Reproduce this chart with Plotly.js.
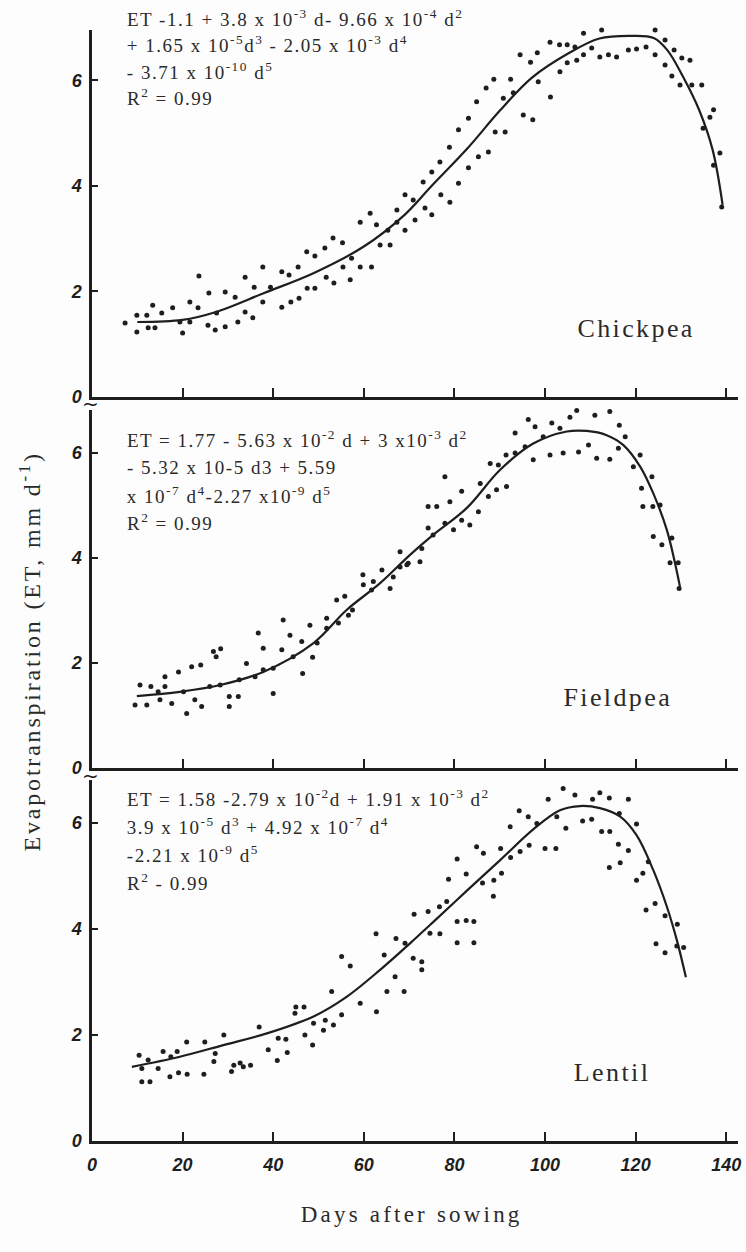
<!DOCTYPE html>
<html>
<head>
<meta charset="utf-8">
<script src="https://cdn.plot.ly/plotly-3.0.1.min.js"></script>
<style>html,body{margin:0;padding:0;background:#fdfdfd;}#chart{width:746px;height:1252px;}</style>
</head>
<body>
<div id="chart"></div>
<script>
// ---------------- Data ----------------
const xTickVals = [0, 20, 40, 60, 80, 100, 120, 140];
const yTickVals = [0, 2, 4, 6];

// Chickpea observed ET
const chickDays = [7.3,9.9,9.9,12.1,12.4,13.4,13.9,15.4,17.8,19.4,20.0,21.6,21.6,23.4,23.6,25.6,25.8,27.2,27.5,29.4,29.4,31.6,32.2,33.8,33.8,35.5,35.8,37.7,37.7,39.4,41.9,41.9,43.5,43.9,45.5,45.7,47.4,47.5,49.2,49.2,51.4,51.7,53.2,53.4,55.3,55.4,57.0,57.3,59.2,59.2,61.4,61.7,62.8,63.6,65.3,65.8,67.3,67.3,69.1,69.1,70.9,71.3,73.1,73.5,75.0,75.0,76.8,77.0,78.9,79.0,80.9,80.9,83.1,83.1,84.9,85.3,87.0,87.5,88.7,89.0,90.8,91.2,92.4,93.0,94.5,95.2,96.8,97.3,98.3,98.5,101.1,101.2,103.2,103.3,104.9,104.9,106.6,107.0,108.5,108.5,110.3,110.3,112.5,112.1,114.3,114.0,116.2,115.8,118.2,118.2,118.4,120.4,120.2,122.4,122.3,124.3,124.3,126.3,126.5,126.5,128.5,130.2,128.0,129.8,132.0,132.4,134.6,137.2,136.4,134.9,138.6,137.2,139.0];
const chickET = [1.40,1.55,1.23,1.55,1.31,1.74,1.31,1.59,1.69,1.42,1.21,1.80,1.42,1.69,2.29,1.36,1.97,1.27,1.59,1.33,1.99,1.89,1.42,2.27,1.61,1.50,2.08,2.46,1.80,2.08,2.37,1.70,2.31,1.80,2.46,1.87,2.75,2.06,2.67,2.06,2.82,2.27,3.01,2.16,2.92,2.46,2.22,2.63,3.31,2.46,3.48,2.46,3.26,2.88,3.16,2.88,3.54,3.31,3.83,3.16,3.73,3.35,4.07,3.58,4.26,3.45,4.45,3.83,4.73,3.69,5.06,4.05,5.28,4.34,5.59,4.55,5.85,4.64,6.02,5.02,5.66,5.02,6.02,5.76,6.48,5.34,6.34,5.25,6.52,5.97,6.72,5.68,6.67,6.16,6.67,6.33,6.63,6.38,6.89,6.48,6.99,6.61,6.95,6.44,7.05,6.48,7.08,6.44,7.20,7.05,6.57,7.03,6.59,7.08,6.63,6.95,6.48,7.01,6.76,6.29,6.57,6.42,6.08,5.91,6.38,5.91,5.91,5.44,5.30,5.09,4.62,4.39,3.60];
// Chickpea fitted curve
const chickFitDays = [10, 20, 27, 38, 49, 60, 69, 75, 83, 90, 97, 105, 112, 119, 124, 127, 130.5, 134, 137, 139.2];
const chickFitET   = [1.42, 1.46, 1.60, 1.97, 2.35, 2.85, 3.45, 4.00, 4.72, 5.42, 6.04, 6.50, 6.79, 6.84, 6.80, 6.57, 6.06, 5.44, 4.68, 3.64];

// Fieldpea observed ET
const fieldDays = [9.5,10.6,12.1,13.0,14.6,15.0,16.1,16.1,17.6,19.1,20.2,20.9,22.0,22.7,24.0,24.2,26.0,26.8,27.4,28.4,28.3,30.3,30.3,32.3,32.5,34.1,36.0,36.7,37.8,37.8,40.0,40.0,41.9,42.2,43.7,44.4,46.3,46.5,48.1,48.7,49.7,51.8,51.8,54.0,54.4,55.8,56.6,57.5,59.8,59.9,61.7,62.1,64.0,65.8,66.5,68.0,68.0,69.8,69.5,72.4,72.8,74.2,74.2,75.3,76.1,77.9,77.9,79.0,79.8,81.6,81.6,83.4,85.3,85.7,87.5,87.9,89.3,89.7,91.5,91.4,93.4,93.4,95.6,96.3,97.4,97.8,99.5,99.6,101.1,101.5,103.3,104.0,105.1,105.5,107.0,107.4,109.2,109.6,111.0,111.4,114.3,114.3,116.2,116.4,117.7,119.5,121.0,121.3,121.6,123.6,123.8,123.9,125.4,125.8,128.0,127.6,129.4,129.6];
const fieldET = [1.20,1.58,1.20,1.55,1.45,1.30,1.74,1.55,1.23,1.83,1.45,1.04,1.93,1.30,1.96,1.17,1.55,2.22,2.12,2.27,1.58,1.36,1.17,1.36,1.68,1.99,1.74,2.57,2.28,1.87,1.90,1.42,2.25,2.82,2.53,2.12,2.41,1.80,2.72,2.11,2.38,2.85,2.66,3.20,2.76,3.27,2.91,3.01,3.68,3.49,3.39,3.55,3.77,3.42,3.64,4.12,3.83,3.90,3.87,3.93,4.18,4.98,4.57,4.44,4.98,5.55,4.66,5.07,4.54,5.27,4.72,4.63,4.88,5.42,5.17,5.80,5.30,5.77,5.36,5.96,6.38,6.00,6.12,6.64,5.87,6.50,6.85,6.31,5.96,6.57,6.47,6.00,6.89,6.68,6.81,6.02,6.89,6.15,6.72,5.90,6.79,5.88,6.09,6.53,6.31,5.74,5.96,5.33,4.98,5.55,4.98,4.41,5.01,4.25,4.38,3.91,3.91,3.42];
const fieldFitDays = [9.9, 19.4, 28.3, 37.8, 48.9, 56.2, 63.6, 70.2, 75.3, 82.7, 90.1, 97.4, 104.8, 109.2, 113.6, 117.3, 121.0, 123.9, 126.9, 129.8];
const fieldFitET   = [1.37, 1.45, 1.58, 1.83, 2.38, 3.01, 3.52, 4.06, 4.44, 4.95, 5.68, 6.18, 6.41, 6.42, 6.34, 6.15, 5.74, 5.23, 4.53, 3.45];

// Lentil observed ET
const lentilDays = [10.4,11.0,11.0,12.4,12.8,14.6,15.7,17.2,17.4,18.8,19.1,20.9,21.0,24.9,24.7,26.9,27.2,29.1,30.8,31.3,32.7,33.4,35.0,36.9,38.9,40.9,41.1,42.8,43.1,44.8,45.0,46.8,47.0,48.7,48.9,51.1,51.5,52.9,53.3,55.1,55.1,57.0,59.2,62.7,62.8,64.5,65.1,66.9,67.1,68.9,69.1,70.9,71.1,72.8,72.8,74.2,74.6,76.7,76.8,78.3,78.7,80.6,80.6,80.6,82.6,82.6,84.3,84.3,84.9,86.2,86.4,88.7,88.6,90.2,90.4,92.3,92.4,94.3,94.5,96.3,96.5,98.2,100.0,100.7,102.4,102.6,104.0,104.6,106.6,108.3,110.3,110.5,112.1,112.5,114.2,114.3,114.2,116.2,116.4,116.6,118.4,118.4,120.2,120.2,121.6,122.8,122.3,124.3,124.5,126.5,126.5,129.2,129.1,130.6];
const lentilET = [1.62,1.37,1.12,1.53,1.12,1.37,1.69,1.21,1.59,1.69,1.29,1.87,1.26,1.87,1.26,1.50,1.65,2.00,1.31,1.43,1.47,1.40,1.43,2.15,1.72,1.52,1.94,1.92,1.67,2.41,2.53,2.53,2.00,1.81,2.22,2.09,2.28,2.82,2.19,3.48,2.38,3.30,2.60,3.91,2.44,3.51,2.82,3.10,3.82,2.82,3.73,3.45,4.28,3.38,3.23,4.33,3.92,4.42,3.91,4.52,4.94,5.32,4.14,3.74,5.04,4.16,4.14,3.74,5.55,4.87,5.43,4.92,4.62,5.52,5.05,5.93,5.35,6.23,5.46,6.12,5.58,5.99,5.52,6.45,5.52,6.12,6.65,5.90,6.53,6.04,6.07,6.45,6.57,5.84,6.47,5.84,5.16,5.60,6.18,5.25,6.45,5.48,5.98,4.92,5.05,5.27,4.36,4.48,3.72,4.25,3.55,4.09,3.68,3.65];
const lentilFitDays = [8.8, 19.4, 29.0, 38.6, 48.9, 56.2, 63.6, 70.2, 75.3, 82.7, 90.1, 97.4, 103.3, 107.7, 112.1, 116.6, 120.2, 123.9, 126.9, 129.1, 131.1];
const lentilFitET   = [1.40, 1.59, 1.81, 2.03, 2.35, 2.72, 3.23, 3.73, 4.13, 4.72, 5.30, 5.88, 6.24, 6.32, 6.28, 6.12, 5.77, 5.11, 4.42, 3.79, 3.09];

// Text
const cropNames = ["Chickpea", "Fieldpea", "Lentil"];
const chickEq = [
  "ET -1.1 + 3.8 x 10<sup>-3</sup> d- 9.66 x 10<sup>-4</sup> d<sup>2</sup>",
  "+ 1.65 x 10<sup>-5</sup>d<sup>3</sup> - 2.05 x 10<sup>-3</sup> d<sup>4</sup>",
  "- 3.71 x 10<sup>-10</sup> d<sup>5</sup>",
  "R<sup>2</sup> = 0.99"
];
const fieldEq = [
  "ET = 1.77 - 5.63 x 10<sup>-2</sup> d + 3 x10<sup>-3</sup> d<sup>2</sup>",
  "- 5.32 x 10-5 d3 + 5.59",
  "x 10<sup>-7</sup> d<sup>4</sup>-2.27 x10<sup>-9</sup> d<sup>5</sup>",
  "R<sup>2</sup> = 0.99"
];
const lentilEq = [
  "ET = 1.58 -2.79 x 10<sup>-2</sup>d + 1.91 x 10<sup>-3</sup> d<sup>2</sup>",
  "3.9 x 10<sup>-5</sup> d<sup>3</sup> + 4.92 x 10<sup>-7</sup> d<sup>4</sup>",
  "-2.21 x 10<sup>-9</sup> d<sup>5</sup>",
  "R<sup>2</sup> - 0.99"
];
const yTitle = "Evapotranspiration (ET, mm d<sup>-1</sup>)";
const xTitle = "Days after sowing";

// ---------------- Layout helpers ----------------
const W = 746, H = 1252;
const M = {l: 92, r: 8, t: 12, b: 111};
const PW = W - M.l - M.r, PH = H - M.t - M.b;
const px = x => (x - M.l) / PW;           // pixel -> paper x
const py = y => (H - M.b - y) / PH;       // pixel -> paper y

const INK = '#1e1e1e';
const TXT = '#2a2a2a';
const SERIF = 'Liberation Serif, Times New Roman, serif';
const markerStyle = {size: 5, color: INK};
const lineStyle = {color: INK, width: 2.2, shape: 'spline', smoothing: 1};

function pts(x, y, xa, ya) {
  return {x, y, xaxis: xa, yaxis: ya, type: 'scatter', mode: 'markers', marker: markerStyle, cliponaxis: false, hoverinfo: 'skip'};
}
function fit(x, y, xa, ya) {
  return {x, y, xaxis: xa, yaxis: ya, type: 'scatter', mode: 'lines', line: lineStyle, cliponaxis: false, hoverinfo: 'skip'};
}

const data = [
  pts(lentilDays, lentilET, 'x', 'y'), fit(lentilFitDays, lentilFitET, 'x', 'y'),
  pts(fieldDays, fieldET, 'x2', 'y2'), fit(fieldFitDays, fieldFitET, 'x2', 'y2'),
  pts(chickDays, chickET, 'x3', 'y3'), fit(chickFitDays, chickFitET, 'x3', 'y3')
];

const tickFont = {family: 'Liberation Sans, Arial, sans-serif', size: 18, color: INK, weight: 'bold', style: 'italic'};
function xAxis(anchor, labels) {
  return {
    anchor, range: [0, 142.6], tickvals: xTickVals, ticks: 'inside', ticklen: 9, tickwidth: 2,
    tickcolor: INK, showline: true, linecolor: INK, linewidth: 2.6, showgrid: false, zeroline: false,
    showticklabels: labels, tickfont: tickFont, ticklabelstandoff: 6, fixedrange: true
  };
}
function yAxis(domain, top) {
  return {
    domain, range: [0, top], tickvals: yTickVals, ticks: 'inside', ticklen: 6, tickwidth: 2,
    tickcolor: INK, showline: true, linecolor: INK, linewidth: 2.6, showgrid: false, zeroline: false,
    tickfont: tickFont, ticklabelstandoff: 4, fixedrange: true
  };
}

const annotations = [];
const spacing = [];   // letter spacing (px) for each annotation, applied after drawing
const eqFont = {family: SERIF, size: 19, color: TXT};
function addEq(lines, ys) {
  lines.forEach((t, i) => {
    annotations.push({
      text: t, xref: 'paper', yref: 'paper', x: px(125), y: py(ys[i]), xanchor: 'left', yanchor: 'middle',
      showarrow: false, font: eqFont
    });
    spacing.push(1.5);
  });
}
addEq(chickEq, [18, 44, 71, 97]);
addEq(fieldEq, [439, 467, 495, 522]);
addEq(lentilEq, [798, 826, 854, 882]);

const nameFont = {family: SERIF, size: 26, color: TXT};
[[cropNames[0], 636, 328], [cropNames[1], 618, 697], [cropNames[2], 612, 1072]].forEach(([t, x, y]) => {
  annotations.push({text: t, xref: 'paper', yref: 'paper', x: px(x), y: py(y), xanchor: 'center', yanchor: 'middle', showarrow: false, font: nameFont});
  spacing.push(2.4);
});

annotations.push({
  text: yTitle, xref: 'paper', yref: 'paper', x: px(30), y: py(652), xanchor: 'center', yanchor: 'middle',
  textangle: -90, showarrow: false, font: {family: SERIF, size: 24, color: TXT}
});
spacing.push(2.8);
annotations.push({
  text: xTitle, xref: 'paper', yref: 'paper', x: px(412), y: py(1214), xanchor: 'center', yanchor: 'middle',
  showarrow: false, font: {family: SERIF, size: 23, color: TXT}
});
spacing.push(3.2);
// axis-break marks
[[90, 404], [90, 776]].forEach(([x, y]) => {
  annotations.push({text: '~', xref: 'paper', yref: 'paper', x: px(x), y: py(y), xanchor: 'center', yanchor: 'middle', showarrow: false, font: {family: 'DejaVu Sans', size: 20, color: INK}});
  spacing.push(0);
});

const layout = {
  width: W, height: H, margin: M, showlegend: false,
  paper_bgcolor: '#fdfdfd', plot_bgcolor: 'rgba(0,0,0,0)',
  xaxis: xAxis('y', true),
  xaxis2: xAxis('y2', false),
  xaxis3: xAxis('y3', false),
  yaxis: yAxis([0, py(780)], (1141 - 780) / 53.0),
  yaxis2: yAxis([py(768), py(410)], (768 - 410) / 52.5),
  yaxis3: yAxis([py(397), py(30)], (397 - 30) / 52.8),
  annotations
};

const gd = document.getElementById('chart');
Plotly.newPlot(gd, data, layout, {staticPlot: true, displayModeBar: false}).then(() => {
  gd.querySelectorAll('g.annotation').forEach(g => {
    const i = +g.getAttribute('data-index');
    const ls = spacing[i];
    if (!ls) return;
    const t = g.querySelector('text.annotation-text');
    if (!t) return;
    const w0 = t.getBBox().width;
    t.style.letterSpacing = ls + 'px';
    const w1 = t.getBBox().width;
    // text is drawn centred in its box; keep left-anchored lines fixed at their left edge
    if (annotations[i].xanchor === 'left') {
      const dx = (w1 - w0) / 2;
      const tr = t.getAttribute('transform') || '';
      t.setAttribute('transform', tr + ' translate(' + dx + ',0)');
    }
  });
});
</script>
</body>
</html>
